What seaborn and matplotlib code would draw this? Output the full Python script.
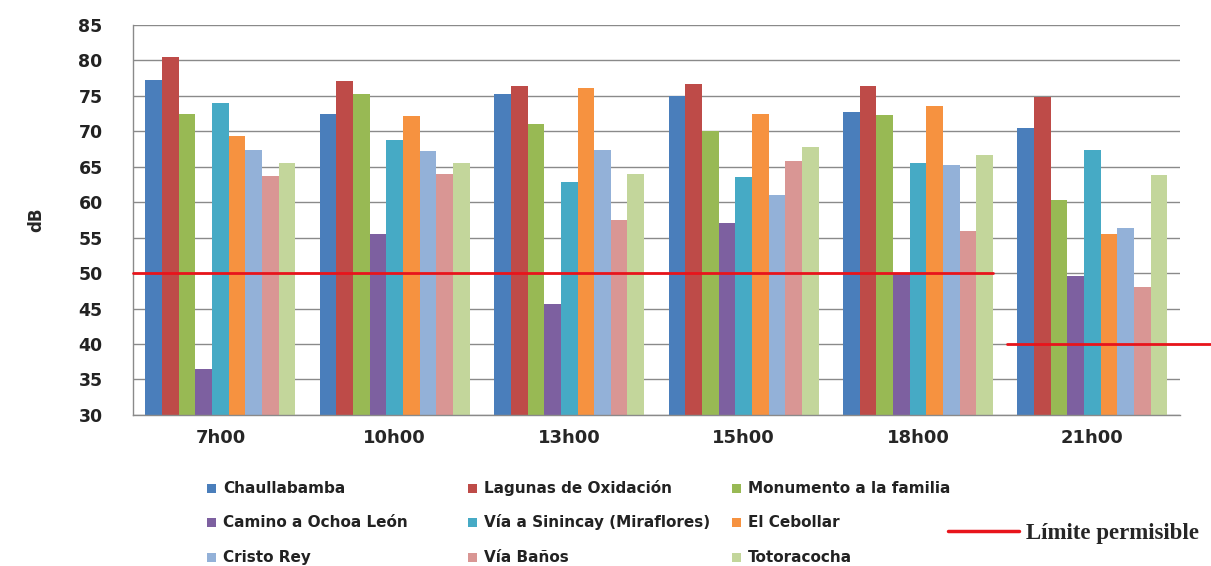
import matplotlib
matplotlib.use("Agg")
import matplotlib.pyplot as plt
from matplotlib.lines import Line2D
from matplotlib.patches import Rectangle
import seaborn as sns
import pandas as pd

# Data
hours = ["7h00", "10h00", "13h00", "15h00", "18h00", "21h00"]
sites = ["Chaullabamba", "Lagunas de Oxidación", "Monumento a la familia",
         "Camino a Ochoa León", "Vía a Sinincay (Miraflores)", "El Cebollar",
         "Cristo Rey", "Vía Baños", "Totoracocha"]
chaullabamba = [77.2, 72.5, 75.2, 75.0, 72.7, 70.5]
lagunas = [80.5, 77.1, 76.4, 76.7, 76.4, 74.8]
monumento = [72.4, 75.2, 71.0, 70.1, 72.3, 60.3]
camino_ochoa = [36.5, 55.5, 45.7, 57.0, 50.0, 49.6]
sinincay = [74.0, 68.7, 62.9, 63.5, 65.5, 67.3]
cebollar = [69.3, 72.2, 76.1, 72.4, 73.5, 55.5]
cristo_rey = [67.4, 67.2, 67.3, 61.0, 65.3, 56.4]
via_banos = [63.7, 64.0, 57.5, 65.8, 56.0, 48.0]
totoracocha = [65.5, 65.5, 64.0, 67.8, 66.7, 63.9]
limit_db = [50, 50, 50, 50, 50, 40]

colors = ["#4A7EBB", "#BE4B48", "#98B954", "#7D60A0", "#46AAC5",
          "#F69240", "#93B1D8", "#D99694", "#C3D69B"]

series = [chaullabamba, lagunas, monumento, camino_ochoa, sinincay,
          cebollar, cristo_rey, via_banos, totoracocha]
rows = []
for site, vals in zip(sites, series):
    for h, v in zip(hours, vals):
        rows.append({"hora": h, "sitio": site, "dB": v})
df = pd.DataFrame(rows)

sns.set_style("white")
plt.rcParams["font.family"] = ["DejaVu Sans"]

W, H = 1211, 566
fig = plt.figure(figsize=(W / 100, H / 100), dpi=100)
ax = fig.add_axes([0.110, 0.267, 0.864, 0.689])

sns.barplot(data=df, x="hora", y="dB", hue="sitio", hue_order=sites,
            order=hours, palette=colors, width=0.86, gap=0, saturation=1,
            ax=ax, legend=False, linewidth=0)

ax.set_ylim(30, 85)
ax.set_xlim(-0.5, len(hours) - 0.5)
ax.set_yticks(range(30, 86, 5))
ax.yaxis.grid(True, color="#8a8a8a", linewidth=1.0)
ax.set_axisbelow(True)
for s in ["top", "right"]:
    ax.spines[s].set_visible(False)
for s in ["left", "bottom"]:
    ax.spines[s].set_color("#8a8a8a")
    ax.spines[s].set_linewidth(1.0)

ax.tick_params(axis="y", length=10, color="#8a8a8a", labelsize=12.5,
               pad=12, labelcolor="#222222")
ax.tick_params(axis="x", which="major", length=0, labelsize=13, pad=10)
ax.set_xticks([i - 0.5 for i in range(len(hours) + 1)], minor=True)
ax.tick_params(axis="x", which="minor", length=5, color="#8a8a8a")
for lbl in ax.get_yticklabels() + ax.get_xticklabels():
    lbl.set_fontweight("bold")

ax.set_xlabel("")
ax.set_ylabel("dB", fontsize=12, fontweight="bold", labelpad=24)

# permissible limit line, one segment per run of equal values
start = 0
for i in range(1, len(limit_db) + 1):
    if i == len(limit_db) or limit_db[i] != limit_db[start]:
        x0 = start - 0.5 if start == 0 else start - 0.49
        x1 = i - 1 + 0.43 if i < len(limit_db) else i - 1 + 1.18
        ax.plot([x0, x1], [limit_db[start]] * 2, color="#E8141B",
                linewidth=2, clip_on=False, zorder=5)
        start = i

# legend: 3x3 grid laid out row by row, fixed row positions
col_x = [207, 468, 732]
row_y = [488, 522, 557]
for k, site in enumerate(sites):
    px = col_x[k % 3]
    py = row_y[k // 3]
    fig.add_artist(Rectangle(((px) / W, 1 - (py + 4.5) / H), 9 / W, 9 / H,
                             transform=fig.transFigure, color=colors[k],
                             linewidth=0))
    fig.text((px + 16) / W, 1 - (py + 5) / H, site, fontsize=11,
             fontweight="bold", color="#222222", va="baseline", ha="left")

fig.legend([Line2D([0], [0], color="#E8141B", linewidth=2.5)],
           ["Límite permisible"], loc="center left",
           bbox_to_anchor=(948 / W, 1 - 533 / H), frameon=False,
           handlelength=3.1, handletextpad=0.3, borderpad=0,
           borderaxespad=0,
           prop={"family": "Liberation Serif", "size": 16.5, "weight": "bold"})

fig.savefig("out.png", dpi=100)
